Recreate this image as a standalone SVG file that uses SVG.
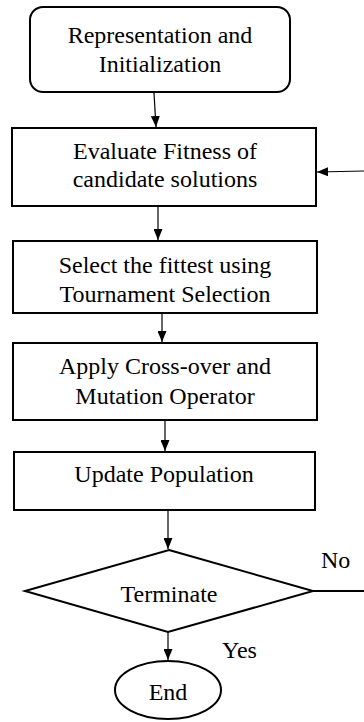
<svg xmlns="http://www.w3.org/2000/svg" width="364" height="722" viewBox="0 0 364 722">
<defs>
<marker id="ah" markerWidth="11" markerHeight="9" refX="11" refY="4.5" orient="auto" markerUnits="userSpaceOnUse">
<path d="M0,0 L11,4.5 L0,9 Z" fill="#000"/>
</marker>
<style>
.n{fill:#fff;stroke:#000;stroke-width:2}
.t{font-family:"Liberation Serif","Times New Roman",serif;font-size:24px;fill:#000;text-anchor:middle}
.l{font-family:"Liberation Serif","Times New Roman",serif;font-size:24px;fill:#000}
.c{fill:none;stroke:#000;stroke-width:1.2}
</style>
</defs>
<rect width="364" height="722" fill="#fff"/>
<g id="connectors">
<line class="c" x1="154" y1="93" x2="156" y2="127" marker-end="url(#ah)"/>
<line class="c" x1="158" y1="206" x2="158" y2="240" marker-end="url(#ah)"/>
<line class="c" x1="162" y1="314" x2="162" y2="342" marker-end="url(#ah)"/>
<line class="c" x1="165" y1="421" x2="165" y2="451" marker-end="url(#ah)"/>
<line class="c" x1="168" y1="511" x2="168" y2="549" marker-end="url(#ah)"/>
<line class="c" x1="168" y1="632" x2="168" y2="660" marker-end="url(#ah)"/>
<line class="c" style="stroke-width:2" x1="313" y1="591" x2="364" y2="591"/>
<line class="c" x1="364" y1="171" x2="317" y2="172" marker-end="url(#ah)"/>
<text class="l" x="321" y="568">No</text>
<text class="l" x="222" y="658">Yes</text>
</g>
<g id="init">
<rect class="n" x="30" y="7" width="260" height="85" rx="13"/>
<text class="t" x="160" y="43">Representation and</text>
<text class="t" x="160" y="72">Initialization</text>
</g>
<g id="evaluate">
<rect class="n" x="12" y="128" width="304" height="78"/>
<text class="t" x="165" y="159">Evaluate Fitness of</text>
<text class="t" x="165" y="187">candidate solutions</text>
</g>
<g id="select">
<rect class="n" x="13" y="241" width="304" height="72"/>
<text class="t" x="165" y="273">Select the fittest using</text>
<text class="t" x="165" y="302">Tournament Selection</text>
</g>
<g id="apply">
<rect class="n" x="13" y="343" width="304" height="77"/>
<text class="t" x="165" y="374">Apply Cross-over and</text>
<text class="t" x="165" y="404">Mutation Operator</text>
</g>
<g id="update">
<rect class="n" x="14" y="452" width="301" height="58"/>
<text class="t" x="164" y="482">Update Population</text>
</g>
<g id="terminate">
<polygon class="n" points="169,550 313,591 168,632 25,591"/>
<text class="t" x="169" y="602">Terminate</text>
</g>
<g id="end">
<ellipse class="n" cx="168" cy="690" rx="53" ry="29"/>
<text class="t" x="168" y="700">End</text>
</g>
</svg>
